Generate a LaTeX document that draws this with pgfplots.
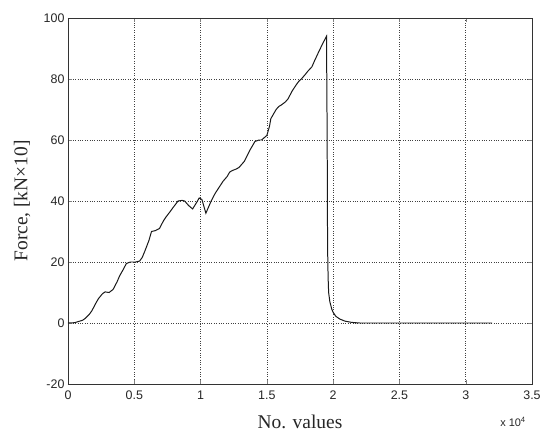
\documentclass[border=0pt]{standalone}
\usepackage{pgfplots}
\pgfplotsset{compat=1.18}
\usepackage{fontspec}
\setmainfont{Liberation Serif}
\newfontfamily\ticksf{Liberation Sans}
\begin{document}
\begin{tikzpicture}
\begin{axis}[
  scale only axis,
  width=464bp, height=366bp,
  xmin=0, xmax=3.5, ymin=-20, ymax=100,
  xtick={0,0.5,1,1.5,2,2.5,3,3.5},
  xticklabels={0,0.5,1,1.5,2,2.5,3,3.5},
  ytick={-20,0,20,40,60,80,100},
  /pgf/number format/assume math mode=true,
  tick label style={font=\ticksf\fontsize{12.5}{14}\selectfont, text=black!85},
  xticklabel style={yshift=-3bp},
  tick align=inside,
  major tick length=4bp,
  grid=major,
  major grid style={dotted, black!75, line width=0.7pt},
  axis line style={black!80, line width=0.7pt},
  xlabel={No. values},
  ylabel={Force, [kN×10]},
  label style={font=\fontsize{19.5}{22}\selectfont, text=black!85},
  xlabel style={at={(axis description cs:0.5,-0.104)}, anchor=center},
  ylabel style={at={(axis description cs:-0.099,0.5)}, anchor=center, rotate=0},
  clip=false,
]
\addplot[black!90, line width=1pt] coordinates {
(0,0) (0.05,0.1) (0.08,0.5) (0.11,0.9) (0.13,1.5) (0.16,2.8) (0.18,4) (0.21,6.5) (0.23,8) (0.26,9.6) (0.28,10.2) (0.31,10) (0.34,11) (0.37,13.5) (0.39,15.5) (0.42,17.8) (0.44,19.5) (0.47,20) (0.51,20) (0.54,20.3) (0.56,21.5) (0.58,23.6) (0.61,27) (0.63,30) (0.66,30.3) (0.69,31) (0.72,33.5) (0.74,34.8) (0.77,36.5) (0.79,37.7) (0.83,40) (0.86,40.2) (0.88,40) (0.91,38.5) (0.94,37.4) (0.97,39.5) (0.99,41) (1.01,40.5) (1.02,39) (1.04,36) (1.06,38) (1.08,40) (1.11,42.5) (1.14,44.5) (1.17,46.5) (1.2,48) (1.22,49.5) (1.24,50) (1.27,50.5) (1.29,51) (1.31,52) (1.33,53) (1.37,56.5) (1.41,59.5) (1.44,60) (1.46,60) (1.5,61.5) (1.52,64.5) (1.53,67) (1.55,68.5) (1.57,70) (1.59,71) (1.61,71.5) (1.64,72.5) (1.66,73.5) (1.69,76) (1.72,78) (1.74,79.2) (1.76,80) (1.79,81.5) (1.81,82.6) (1.84,84) (1.86,86) (1.89,88.8) (1.92,91.5) (1.95,94) (1.955,60) (1.958,25) (1.962,15) (1.966,10) (1.975,7) (1.99,4.5) (2.0,3.5) (2.02,2.2) (2.05,1.3) (2.09,0.6) (2.14,0.2) (2.2,0) (2.6,0) (3.2,0)
};
\coordinate (sw) at (rel axis cs:0,0);
\coordinate (ne) at (rel axis cs:1,1);
\node[font=\ticksf\fontsize{11}{13}\selectfont, text=black!85] at ([shift={(-19bp,-38bp)}]rel axis cs:1,0) {x 10\textsuperscript{4}};
\end{axis}
\pgfresetboundingbox
\path ([shift={(-68bp,-48bp)}]sw) rectangle ([shift={(10bp,18bp)}]ne);
\end{tikzpicture}
\end{document}
